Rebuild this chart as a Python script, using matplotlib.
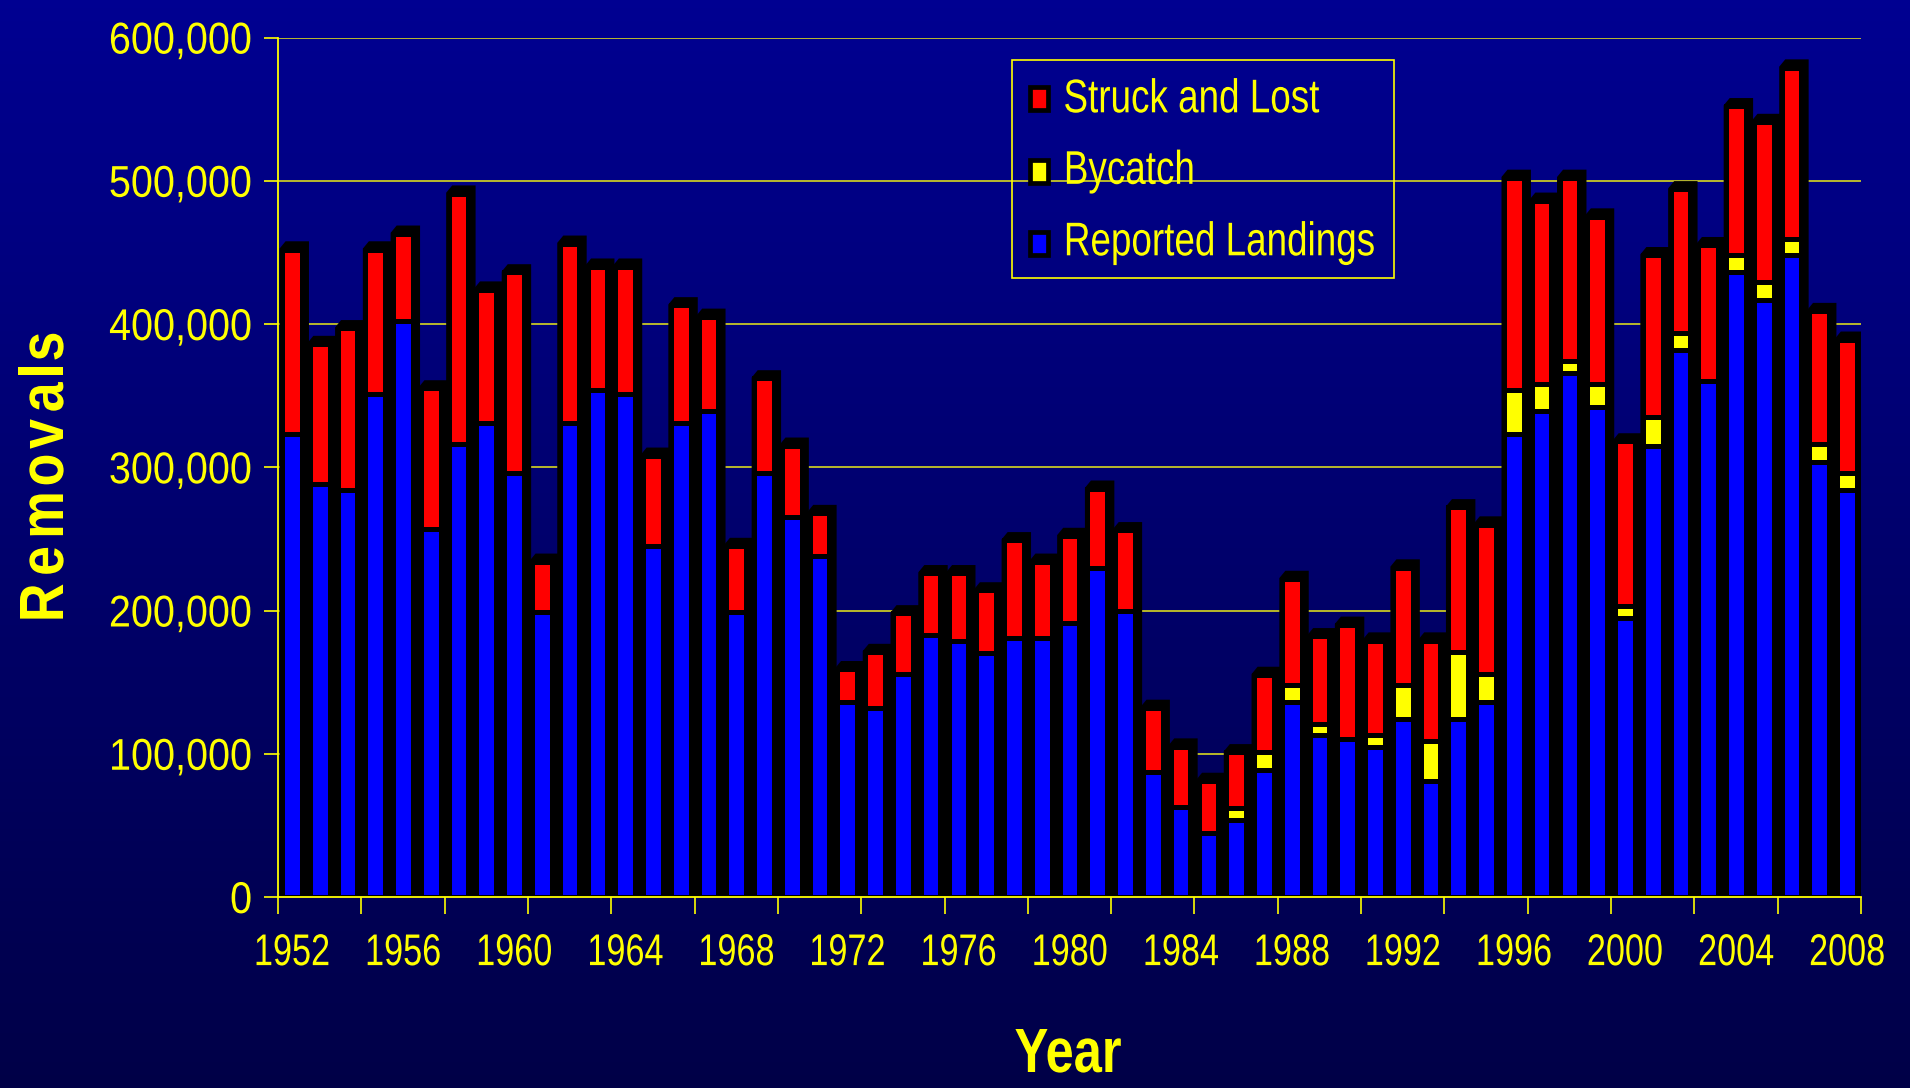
import numpy as np
import matplotlib
matplotlib.use("Agg")
import matplotlib.pyplot as plt
from matplotlib.patches import Rectangle
from matplotlib.patheffects import AbstractPathEffect
from matplotlib.transforms import Affine2D

# values in thousands of animals
years = list(range(1952, 2009))
landings = [323, 288, 284, 351, 402, 257, 316, 331, 296, 199,
            331, 354, 351, 245, 331, 339, 199, 296, 265, 238,
            136, 132, 156, 183, 179, 170, 181, 181, 191, 230,
            200, 87, 63, 45, 54, 89, 136, 113, 110, 105,
            124, 81, 124, 136, 323, 339, 366, 342, 195, 315,
            382, 360, 436, 417, 448, 304, 284]
bycatch = [0] * 34 + [8, 12, 12, 8, 0, 8,
                      24, 28, 47, 20, 31, 19, 8, 16, 8, 20,
                      12, 0, 12, 12, 11, 12, 12]
struck_lost = [129, 98, 113, 101, 61, 98, 175, 93, 140, 35,
               125, 86, 89, 63, 82, 66, 46, 66, 50, 30,
               23, 39, 42, 43, 47, 44, 68, 53, 61, 55,
               56, 45, 42, 36, 39, 54, 74, 61, 80, 66,
               82, 70, 101, 104, 148, 128, 128, 117, 115, 113,
               100, 95, 104, 112, 120, 93, 93]
series_names = ["Struck and Lost", "Bycatch", "Reported Landings"]
series_colors = ["#FF0000", "#FFFF00", "#0000FF"]

landings = np.array(landings) * 1000
bycatch = np.array(bycatch) * 1000
struck_lost = np.array(struck_lost) * 1000
totals = landings + bycatch + struck_lost

FONT = "Liberation Sans"
yellow = "#FFFF00"
W, H = 1910, 1088


class Squeeze(AbstractPathEffect):
    """squash text horizontally to fake a narrow font"""
    def __init__(self, sx, anchor="center"):
        super().__init__()
        self.sx = sx
        self.anchor = anchor

    def draw_path(self, renderer, gc, tpath, affine, rgbFace=None):
        ext = tpath.get_extents()
        x0 = {"left": ext.x0, "center": (ext.x0 + ext.x1) / 2, "right": ext.x1}[self.anchor]
        t = Affine2D().translate(-x0, 0).scale(self.sx, 1).translate(x0, 0) + affine
        renderer.draw_path(gc, tpath, t, rgbFace)


def fx(px):
    return px / W


def fy(py):
    return 1 - py / H


fig = plt.figure(figsize=(W / 100, H / 100), dpi=100)

# gradient background
bg = fig.add_axes([0, 0, 1, 1], zorder=-10)
grad = np.linspace(0, 1, 256).reshape(-1, 1)
top_c = np.array([0, 0, 0.57])
bot_c = np.array([0, 0, 0.28])
img = top_c + (bot_c - top_c) * grad[..., None]
bg.imshow(img, aspect="auto", extent=[0, 1, 0, 1])
bg.axis("off")

ax = fig.add_axes([fx(278), fy(897), fx(1861) - fx(278), fy(37.5) - fy(897)])
ax.set_facecolor("none")

x = np.arange(len(years))
w = 0.71
lw = 3.6
dx, dy = 0.17, 4000

# black depth behind each bar
for xi, t in zip(x, totals):
    xl, xr = xi - w / 2, xi + w / 2
    ax.fill([xl, xl, xl + dx, xr + dx, xr + dx], [0, t, t + dy, t + dy, 0],
            color="black", lw=lw, zorder=2)

ax.bar(x, landings, w, color=series_colors[2], edgecolor="black", lw=lw, zorder=3)
ax.bar(x, bycatch, w, bottom=landings, color=series_colors[1], edgecolor="black", lw=lw, zorder=3)
ax.bar(x, struck_lost, w, bottom=landings + bycatch, color=series_colors[0],
       edgecolor="black", lw=lw, zorder=3)

ax.set_xlim(-0.5, len(years) - 0.5)
ax.set_ylim(0, 600000)
ax.set_yticks(range(0, 600001, 100000))
ax.set_yticklabels([f"{v:,}" for v in range(0, 600001, 100000)],
                   fontname=FONT, fontsize=32, color=yellow)
ax.yaxis.grid(True, color="#D8D820", lw=1.2, zorder=0)
ax.set_axisbelow(True)

ax.set_xticks(x[::4])
ax.set_xticklabels([str(y) for y in years[::4]], fontname=FONT, fontsize=32, color=yellow)
ax.set_xticks(np.arange(-0.5, len(years), 3), minor=True)
ax.tick_params(axis="x", which="major", length=0, pad=26)
ax.tick_params(axis="x", which="minor", length=12, width=1.2, color=yellow, direction="out")
ax.tick_params(axis="y", length=10, width=1.2, color=yellow, direction="out", pad=8.5)

for lab in ax.get_yticklabels():
    lab.set_path_effects([Squeeze(0.89, "right")])
for lab in ax.get_xticklabels():
    lab.set_path_effects([Squeeze(0.77, "center")])

for s in ["top", "right"]:
    ax.spines[s].set_visible(False)
for s in ["left", "bottom"]:
    ax.spines[s].set_color(yellow)
    ax.spines[s].set_linewidth(1.3)
    ax.spines[s].set_zorder(5)

# y title with wide letter spacing, one letter at a time
title_y = "Removals"
letter_pos = [603, 561, 515, 470, 434, 397.5, 371, 346.5]
for ch, py in zip(title_y, letter_pos):
    fig.text(fx(63), fy(py), ch, rotation=90, rotation_mode="anchor",
             ha="center", va="baseline", fontname=FONT, fontweight="bold",
             fontsize=45, color=yellow, path_effects=[Squeeze(0.86, "center")])

fig.text(fx(1068), fy(1072), "Year", ha="center", va="baseline",
         fontname=FONT, fontweight="bold", fontsize=45, color=yellow,
         path_effects=[Squeeze(0.81, "center")])

# legend drawn by hand so the squeezed labels fit the box
fig.patches.append(Rectangle((fx(1011.7), fy(277.7)), fx(1394 - 1011.7), (277.7 - 60) / H,
                             transform=fig.transFigure, fill=False,
                             edgecolor=yellow, lw=1.2))
for k, (name, col) in enumerate(zip(series_names, series_colors)):
    cy = 98.8 + 72.3 * k
    fig.patches.append(Rectangle((fx(1039 - 9), fy(cy + 11.5)), fx(18), 23 / H,
                                 transform=fig.transFigure, facecolor=col,
                                 edgecolor="black", lw=3.4))
    fig.text(fx(1063), fy(112.3 + 71.5 * k), name, ha="left", va="baseline",
             fontname=FONT, fontsize=34, color=yellow,
             path_effects=[Squeeze(0.78, "left")])

fig.savefig("out.png", dpi=100)
